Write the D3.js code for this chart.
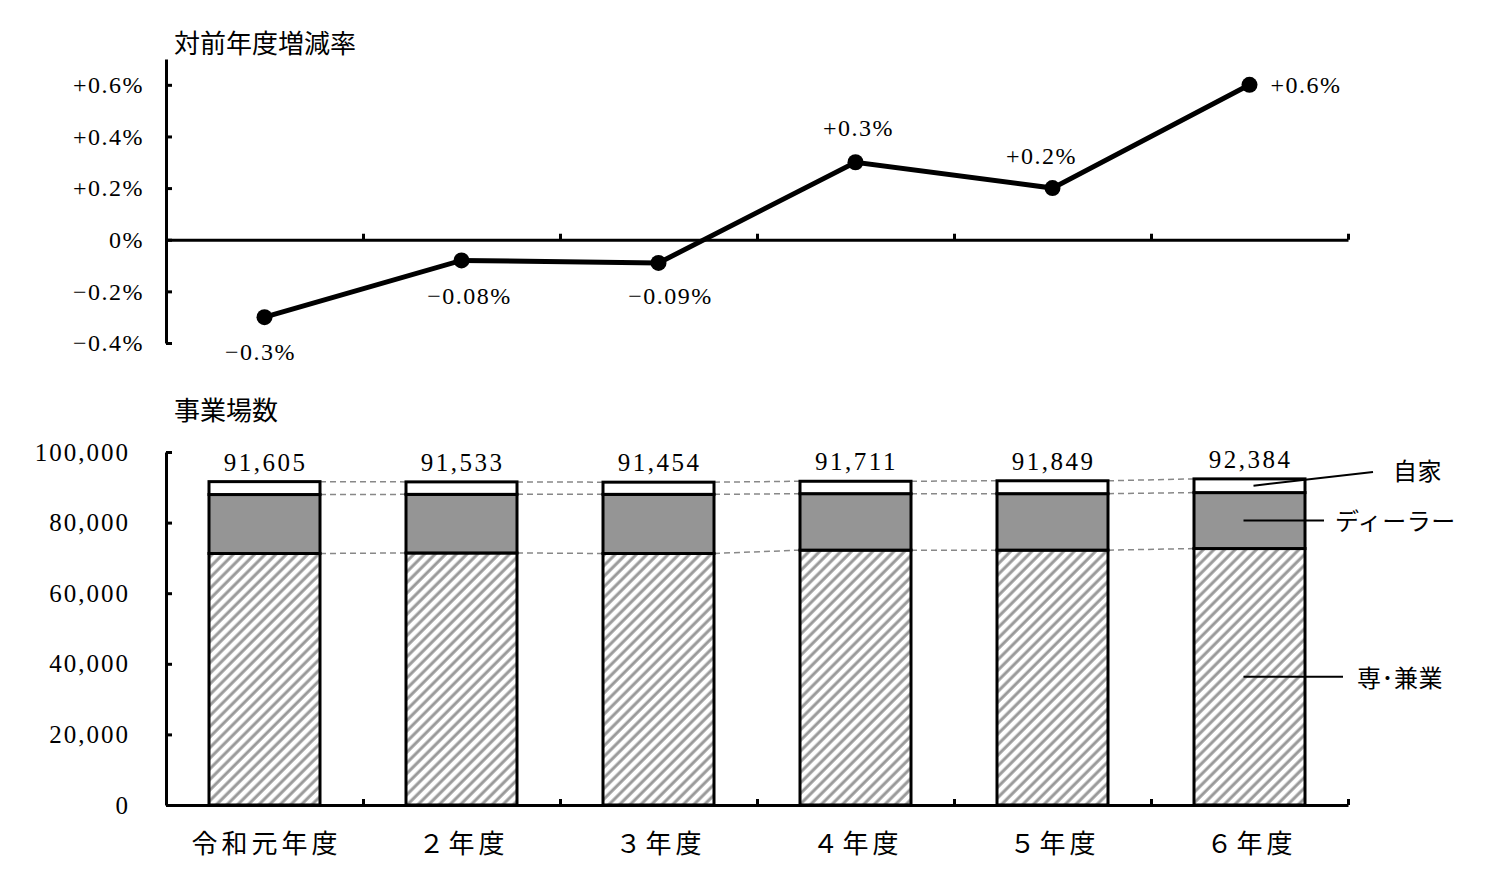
<!DOCTYPE html>
<html>
<head>
<meta charset="utf-8">
<script src="https://cdn.jsdelivr.net/npm/d3@7"></script>
<style>
  body { margin: 0; background: #fff; }
  text { font-family: "Liberation Serif", "Noto Sans CJK JP", serif; fill: #000; }
</style>
</head>
<body>
<svg id="chart" width="1508" height="882"></svg>
<script>
// categories
var years = ["令和元年度", "２年度", "３年度", "４年度", "５年度", "６年度"];

// top: change vs previous year (%)
var rateValues = [-0.3, -0.08, -0.09, 0.3, 0.2, 0.6];
var rateLabels = ["−0.3%", "−0.08%", "−0.09%", "+0.3%", "+0.2%", "+0.6%"];
var rateTicks = [-0.4, -0.2, 0, 0.2, 0.4, 0.6];
var rateTickLabels = ["−0.4%", "−0.2%", "0%", "+0.2%", "+0.4%", "+0.6%"];

// bottom: number of establishments
var totals = [91605, 91533, 91454, 91711, 91849, 92384];
var senken = [71250, 71400, 71250, 72200, 72200, 72650];
var dealer = [16700, 16600, 16750, 16000, 16000, 15850];
var jika = [3655, 3533, 3454, 3511, 3649, 3884];
var countTicks = [0, 20000, 40000, 60000, 80000, 100000];
var seriesNames = ["専･兼業", "ディーラー", "自家"];

var svg = d3.select("#chart");

var left = 166, right = 1348;
var x = d3.scaleBand().domain(years).range([left, right]).padding(0);
var xIdx = d3.scaleLinear().domain([0, years.length]).range([left, right]);
var cx = function (i) { return x(years[i]) + x.bandwidth() / 2; };

// ---------- top line chart ----------
var yRate = d3.scaleLinear().domain([-0.4, 0.7]).range([343, 59]);

svg.append("text").attr("x", 174).attr("y", 53)
    .style("font-family", "'Noto Sans CJK JP'").style("font-size", "26px")
    .text("対前年度増減率");

var rateAxis = svg.append("g")
    .attr("transform", "translate(" + left + ",0)")
    .call(d3.axisLeft(yRate).tickValues(rateTicks).tickSizeInner(-6).tickSizeOuter(0)
        .tickPadding(22).tickFormat(function (d, i) { return rateTickLabels[i]; }));

var zeroAxis = svg.append("g")
    .attr("transform", "translate(0," + yRate(0) + ")")
    .call(d3.axisBottom(xIdx).tickValues(d3.range(1, years.length + 1))
        .tickSizeInner(-6).tickSizeOuter(0).tickFormat(""));

[rateAxis, zeroAxis].forEach(function (g) {
    g.selectAll("path, line").attr("stroke", "#000").attr("stroke-width", 3);
    g.selectAll("text").style("font-size", "24px").style("letter-spacing", "1.5px").attr("fill", "#000");
});

var line = d3.line()
    .x(function (d, i) { return cx(i); })
    .y(function (d) { return yRate(d); });

svg.append("path").datum(rateValues)
    .attr("d", line).attr("fill", "none")
    .attr("stroke", "#000").attr("stroke-width", 5);

svg.selectAll(".dot").data(rateValues).enter().append("circle")
    .attr("cx", function (d, i) { return cx(i); })
    .attr("cy", function (d) { return yRate(d); })
    .attr("r", 8).attr("fill", "#000");

// label placement relative to point: [dx, dy, anchor]
var labelPlacement = [[-4, 43, "middle"], [8, 44, "middle"], [12, 41, "middle"],
    [3, -26, "middle"], [-11, -24, "middle"], [21, 8, "start"]];

svg.selectAll(".rlab").data(rateValues).enter().append("text")
    .attr("x", function (d, i) { return cx(i) + labelPlacement[i][0]; })
    .attr("y", function (d, i) { return yRate(d) + labelPlacement[i][1]; })
    .attr("text-anchor", function (d, i) { return labelPlacement[i][2]; })
    .style("font-size", "24px").style("letter-spacing", "1.5px")
    .text(function (d, i) { return rateLabels[i]; });

// ---------- bottom stacked bars ----------
var yCount = d3.scaleLinear().domain([0, 100000]).range([805, 452]);

svg.append("text").attr("x", 174).attr("y", 420)
    .style("font-family", "'Noto Sans CJK JP'").style("font-size", "26px")
    .text("事業場数");

var defs = svg.append("defs");
var pat = defs.append("pattern").attr("id", "hatch")
    .attr("patternUnits", "userSpaceOnUse")
    .attr("width", 7.5).attr("height", 7.5)
    .attr("patternTransform", "rotate(45)");
pat.append("rect").attr("width", 7.5).attr("height", 7.5).attr("fill", "#fff");
pat.append("line").attr("x1", 2).attr("y1", 0).attr("x2", 2).attr("y2", 7.5)
    .attr("stroke", "#999").attr("stroke-width", 3);

var rows = years.map(function (y, i) {
    return { year: y, senken: senken[i], dealer: dealer[i], jika: jika[i] };
});
var stack = d3.stack().keys(["senken", "dealer", "jika"])(rows);
var fills = ["url(#hatch)", "#959595", "#fff"];

var barW = 111;
var bx = function (i) { return cx(i) - barW / 2; };

// dashed connectors between bars
stack.forEach(function (layer) {
    for (var i = 0; i < years.length - 1; i++) {
        svg.append("line")
            .attr("x1", bx(i) + barW).attr("y1", yCount(layer[i][1]))
            .attr("x2", bx(i + 1)).attr("y2", yCount(layer[i + 1][1]))
            .attr("stroke", "#888").attr("stroke-width", 1.5)
            .attr("stroke-dasharray", "6,4");
    }
});

stack.forEach(function (layer, k) {
    svg.selectAll(".bar" + k).data(layer).enter().append("rect")
        .attr("x", function (d, i) { return bx(i); })
        .attr("y", function (d) { return yCount(d[1]); })
        .attr("width", barW)
        .attr("height", function (d) { return yCount(d[0]) - yCount(d[1]); })
        .attr("fill", fills[k])
        .attr("stroke", "#000").attr("stroke-width", 3);
});

svg.selectAll(".tot").data(totals).enter().append("text")
    .attr("x", function (d, i) { return cx(i) + 1; })
    .attr("y", function (d) { return yCount(d) - 11; })
    .attr("text-anchor", "middle")
    .style("font-size", "25px").style("letter-spacing", "2.5px")
    .text(function (d) { return d3.format(",")(d); });

var countAxis = svg.append("g")
    .attr("transform", "translate(" + left + ",0)")
    .call(d3.axisLeft(yCount).tickValues(countTicks).tickSizeInner(-6).tickSizeOuter(0)
        .tickPadding(36).tickFormat(d3.format(",")));

var baseAxis = svg.append("g")
    .attr("transform", "translate(0," + yCount(0) + ")")
    .call(d3.axisBottom(xIdx).tickValues(d3.range(1, years.length + 1))
        .tickSizeInner(-6).tickSizeOuter(0).tickFormat(""));

[countAxis, baseAxis].forEach(function (g) {
    g.selectAll("path, line").attr("stroke", "#000").attr("stroke-width", 3);
    g.selectAll("text").style("font-size", "25px").style("letter-spacing", "2px").attr("fill", "#000");
});

svg.selectAll(".cat").data(years).enter().append("text")
    .attr("x", function (d, i) { return cx(i) + 2; })
    .attr("y", 853)
    .attr("text-anchor", "middle")
    .style("font-family", "'Noto Sans CJK JP'")
    .style("font-size", "26px").style("letter-spacing", "4px")
    .text(function (d) { return d; });

// legend leaders on the last bar
var last = years.length - 1;
var legendItems = [
    { name: seriesNames[2], mid: (stack[2][last][0] + stack[2][last][1]) / 2, x1: cx(last) + 4, x2: 1373, y2: 472, tx: 1393, ty: 480 },
    { name: seriesNames[1], mid: (stack[1][last][0] + stack[1][last][1]) / 2, x1: cx(last) - 6, x2: 1324, y2: null, tx: 1335, ty: 530 },
    { name: seriesNames[0], mid: stack[0][last][1] / 2, x1: cx(last) - 6, x2: 1343, y2: null, tx: 1357, ty: 687 }
];
legendItems.forEach(function (it) {
    var y1 = yCount(it.mid);
    svg.append("line")
        .attr("x1", it.x1).attr("y1", y1)
        .attr("x2", it.x2).attr("y2", it.y2 === null ? y1 : it.y2)
        .attr("stroke", "#000").attr("stroke-width", 2);
    svg.append("text").attr("x", it.tx).attr("y", it.ty)
        .style("font-family", "'Noto Sans CJK JP'").style("font-size", "24px")
        .style("letter-spacing", "0.5px")
        .text(it.name);
});
</script>
</body>
</html>
